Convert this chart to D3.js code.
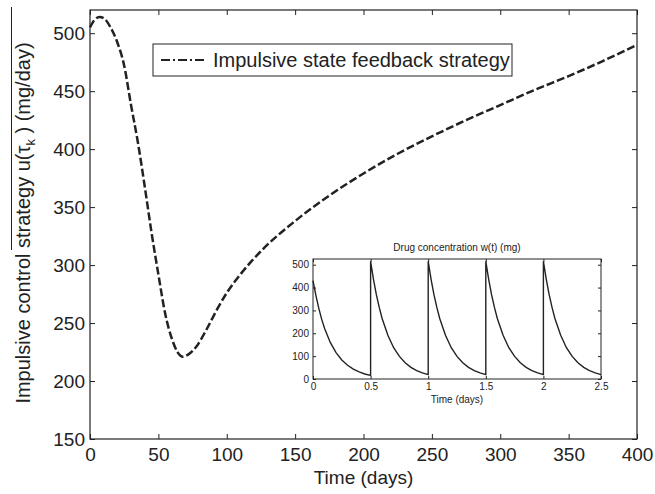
<!DOCTYPE html>
<html lang="en">
<head>
  <meta charset="UTF-8">
  <title>Impulsive control strategy</title>
  <style>
    body { margin: 0; background: #fff; font-family: 'Liberation Sans', Arial, sans-serif; }
  </style>
  <script src="https://d3js.org/d3.v7.min.js"></script>
</head>
<body>
<script>
  // Main curve: dose u(tau_k)
  const timeDays = [0, 3, 7, 11, 15, 20, 25, 30, 35, 40, 45, 50, 55, 60, 64, 68, 72, 78, 85, 93,
                    100, 110, 125, 150, 175, 200, 225, 250, 275, 300, 325, 350, 375, 400];
  const doseValues = [505, 511, 514, 512, 505, 492, 472, 438, 406, 368, 328, 292, 258, 236, 225, 221, 223, 230, 244, 262,
                      276, 292, 312, 338, 360, 379, 396, 411, 425, 438, 451, 463, 476, 490];

  const xTicks = [0, 50, 100, 150, 200, 250, 300, 350, 400];
  const yTicks = [150, 200, 250, 300, 350, 400, 450, 500];

  // Inset: drug concentration w(t)
  const insetTimes = [0, 0.025, 0.05, 0.075, 0.1, 0.15, 0.2, 0.25, 0.3, 0.35, 0.4, 0.45, 0.5,
                      0.5, 0.525, 0.55, 0.575, 0.6, 0.65, 0.7, 0.75, 0.8, 0.85, 0.9, 0.95, 1,
                      1, 1.025, 1.05, 1.075, 1.1, 1.15, 1.2, 1.25, 1.3, 1.35, 1.4, 1.45, 1.5,
                      1.5, 1.525, 1.55, 1.575, 1.6, 1.65, 1.7, 1.75, 1.8, 1.85, 1.9, 1.95, 2,
                      2, 2.025, 2.05, 2.075, 2.1, 2.15, 2.2, 2.25, 2.3, 2.35, 2.4, 2.45, 2.5];
  const insetConc = [430, 366, 310, 262, 222, 160, 115, 83, 60, 43, 31, 22, 16,
                     515, 436, 369, 313, 265, 191, 137, 99, 71, 51, 37, 27, 19,
                     515, 436, 369, 313, 265, 191, 137, 99, 71, 51, 37, 27, 19,
                     515, 436, 369, 313, 265, 191, 137, 99, 71, 51, 37, 27, 19,
                     515, 436, 369, 313, 265, 191, 137, 99, 71, 51, 37, 27, 19];
  const insetXTicks = [0, 0.5, 1, 1.5, 2, 2.5];
  const insetYTicks = [0, 100, 200, 300, 400, 500];

  const width = 655, height = 494;
  const ink = "#222";

  const svg = d3.select("body").append("svg")
    .attr("width", width)
    .attr("height", height)
    .style("display", "block");

  svg.append("rect").attr("width", width).attr("height", height).attr("fill", "#fff");

  // main plot area
  const plotL = 90, plotR = 637, plotT = 10, plotB = 439;
  const x = d3.scaleLinear().domain([0, 400]).range([plotL, plotR]);
  const y = d3.scaleLinear().domain([150, 520]).range([plotB, plotT]);

  const fmt = d3.format("");

  // axes, ticks pointing inward (matlab box style)
  svg.append("g").attr("transform", `translate(0,${plotB})`)
    .call(d3.axisBottom(x).tickValues(xTicks).tickSize(-5).tickPadding(9).tickFormat(fmt));
  svg.append("g").attr("transform", `translate(${plotL},0)`)
    .call(d3.axisLeft(y).tickValues(yTicks).tickSize(-5).tickPadding(5).tickFormat(fmt));
  svg.append("g").attr("transform", `translate(0,${plotT})`)
    .call(d3.axisTop(x).tickValues(xTicks).tickSize(-5).tickFormat(""));
  svg.append("g").attr("transform", `translate(${plotR},0)`)
    .call(d3.axisRight(y).tickValues(yTicks).tickSize(-5).tickFormat(""));

  svg.selectAll(".domain").remove();
  svg.selectAll(".tick line").attr("stroke", ink);
  svg.selectAll(".tick text").attr("fill", ink).style("font-size", "19px")
    .style("font-family", "'Liberation Sans', Arial, sans-serif");

  svg.append("rect")
    .attr("x", plotL).attr("y", plotT)
    .attr("width", plotR - plotL).attr("height", plotB - plotT)
    .attr("fill", "none").attr("stroke", ink).attr("stroke-width", 1.2);

  // the curve
  const line = d3.line()
    .x((d, i) => x(timeDays[i]))
    .y(d => y(d))
    .curve(d3.curveMonotoneX);

  svg.append("path")
    .datum(doseValues)
    .attr("d", line)
    .attr("fill", "none")
    .attr("stroke", ink)
    .attr("stroke-width", 2.5)
    .attr("stroke-dasharray", "8,3");

  // axis titles
  svg.append("text")
    .attr("x", (plotL + plotR) / 2).attr("y", 484)
    .attr("text-anchor", "middle")
    .attr("fill", ink).style("font-size", "19px")
    .text("Time (days)");

  const yl = svg.append("text")
    .attr("transform", "translate(30,223) rotate(-90)")
    .attr("text-anchor", "middle")
    .attr("fill", ink).style("font-size", "20px");
  yl.append("tspan").text("Impulsive control strategy u(\u03C4");
  yl.append("tspan").attr("dy", 5).style("font-size", "13px").text("k");
  yl.append("tspan").attr("dy", -5).text(" ) (mg/day)");

  // stray overline in the original figure
  svg.append("line")
    .attr("x1", 11.5).attr("x2", 11.5).attr("y1", 7).attr("y2", 250)
    .attr("stroke", ink).attr("stroke-width", 1);

  // legend
  const legend = svg.append("g");
  legend.append("rect")
    .attr("x", 153).attr("y", 44).attr("width", 359).attr("height", 32)
    .attr("fill", "#fff").attr("stroke", ink).attr("stroke-width", 1);
  legend.append("line")
    .attr("x1", 161).attr("x2", 207).attr("y1", 60).attr("y2", 60)
    .attr("stroke", ink).attr("stroke-width", 2)
    .attr("stroke-dasharray", "9,3,2,3");
  legend.append("text")
    .attr("x", 213).attr("y", 67)
    .attr("fill", ink).style("font-size", "20px")
    .text("Impulsive state feedback strategy");

  // inset plot
  const iL = 313, iR = 601, iT = 259, iB = 379;
  const ix = d3.scaleLinear().domain([0, 2.5]).range([iL, iR]);
  const iy = d3.scaleLinear().domain([0, 525]).range([iB, iT]);

  const inset = svg.append("g");
  inset.append("rect")
    .attr("x", iL).attr("y", iT).attr("width", iR - iL).attr("height", iB - iT)
    .attr("fill", "#fff");

  inset.append("g").attr("transform", `translate(0,${iB})`)
    .call(d3.axisBottom(ix).tickValues(insetXTicks).tickSize(-3).tickPadding(4).tickFormat(fmt));
  inset.append("g").attr("transform", `translate(${iL},0)`)
    .call(d3.axisLeft(iy).tickValues(insetYTicks).tickSize(-3).tickPadding(4).tickFormat(fmt));
  inset.append("g").attr("transform", `translate(0,${iT})`)
    .call(d3.axisTop(ix).tickValues(insetXTicks).tickSize(-3).tickFormat(""));
  inset.append("g").attr("transform", `translate(${iR},0)`)
    .call(d3.axisRight(iy).tickValues(insetYTicks).tickSize(-3).tickFormat(""));

  inset.selectAll(".domain").remove();
  inset.selectAll(".tick line").attr("stroke", ink);
  inset.selectAll(".tick text").attr("fill", ink).style("font-size", "10px")
    .style("font-family", "'Liberation Sans', Arial, sans-serif");

  const iline = d3.line()
    .x((d, i) => ix(insetTimes[i]))
    .y(d => iy(d));

  inset.append("path")
    .datum(insetConc)
    .attr("d", iline)
    .attr("fill", "none")
    .attr("stroke", ink)
    .attr("stroke-width", 1.4);

  inset.append("rect")
    .attr("x", iL).attr("y", iT).attr("width", iR - iL).attr("height", iB - iT)
    .attr("fill", "none").attr("stroke", ink).attr("stroke-width", 1);

  inset.append("text")
    .attr("x", (iL + iR) / 2).attr("y", 251)
    .attr("text-anchor", "middle")
    .attr("fill", ink).style("font-size", "10px")
    .text("Drug concentration w(t) (mg)");

  inset.append("text")
    .attr("x", (iL + iR) / 2).attr("y", 403)
    .attr("text-anchor", "middle")
    .attr("fill", ink).style("font-size", "10px")
    .text("Time (days)");
</script>
</body>
</html>
